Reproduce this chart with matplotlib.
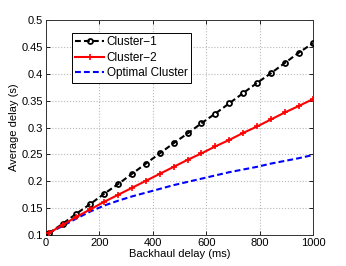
import matplotlib
matplotlib.use("Agg")
import matplotlib.pyplot as plt

backhaul = [10, 62, 114, 166, 218, 270, 322, 374, 426, 478, 530, 582, 634, 686, 738, 790, 842, 894, 946, 1000]
cluster1 = [0.1035, 0.121, 0.140, 0.158, 0.177, 0.195, 0.214, 0.233, 0.252, 0.271, 0.289, 0.308,
            0.326, 0.345, 0.364, 0.383, 0.401, 0.420, 0.439, 0.457]
cluster2 = [0.1035, 0.119, 0.134, 0.148, 0.162, 0.175, 0.188, 0.201, 0.214, 0.227, 0.240, 0.252,
            0.265, 0.277, 0.290, 0.302, 0.315, 0.328, 0.340, 0.353]
optimal = [0.1035, 0.117, 0.131, 0.144, 0.155, 0.164, 0.172, 0.179, 0.186, 0.193, 0.199, 0.205,
           0.211, 0.217, 0.222, 0.227, 0.233, 0.238, 0.243, 0.249]

plt.rcParams['font.family'] = ['Liberation Sans', 'DejaVu Sans']
plt.rcParams['font.size'] = 8

fig = plt.figure(figsize=(3.46, 2.66), dpi=100)
ax = fig.add_axes([0.133, 0.116, 0.772, 0.809])

ax.plot(backhaul, cluster1, color='black', linestyle='--', linewidth=1.5, dashes=(2.8, 1.5),
        marker='o', markersize=3.6, markerfacecolor='none', markeredgecolor='black',
        markeredgewidth=1.3, label='Cluster\u22121', zorder=3)
ax.plot(backhaul, cluster2, color='red', linestyle='-', linewidth=1.5,
        marker='+', markersize=4.5, markeredgewidth=1.2, label='Cluster\u22122', zorder=3)
ax.plot(backhaul, optimal, color='blue', linestyle='--', linewidth=1.5, dashes=(2.8, 1.5),
        label='Optimal Cluster', zorder=2)

ax.set_xlim(0, 1000)
ax.set_ylim(0.1, 0.5)
ax.set_xticks([0, 200, 400, 600, 800, 1000])
ax.set_yticks([0.1, 0.15, 0.2, 0.25, 0.3, 0.35, 0.4, 0.45, 0.5])
ax.set_yticklabels(['0.1', '0.15', '0.2', '0.25', '0.3', '0.35', '0.4', '0.45', '0.5'])
ax.tick_params(direction='in', length=3, width=0.6, top=True, right=True, labelsize=8, pad=2)
ax.grid(True, linestyle=':', color='#b8b8b8', linewidth=0.8)
for s in ax.spines.values():
    s.set_linewidth(0.7)
    s.set_color('#333333')

ax.set_xlabel('Backhaul delay (ms)', fontsize=8, labelpad=1)
ax.set_ylabel('Average delay (s)', fontsize=8, labelpad=2)

leg = ax.legend(loc='upper left', bbox_to_anchor=(0.097, 0.94), fontsize=8.5, frameon=True,
                fancybox=False, edgecolor='black', framealpha=1, handlelength=2.4,
                handletextpad=0.25, borderpad=0.3, labelspacing=0.3, borderaxespad=0)
leg.get_frame().set_linewidth(0.7)

fig.savefig('out.png', dpi=100)
